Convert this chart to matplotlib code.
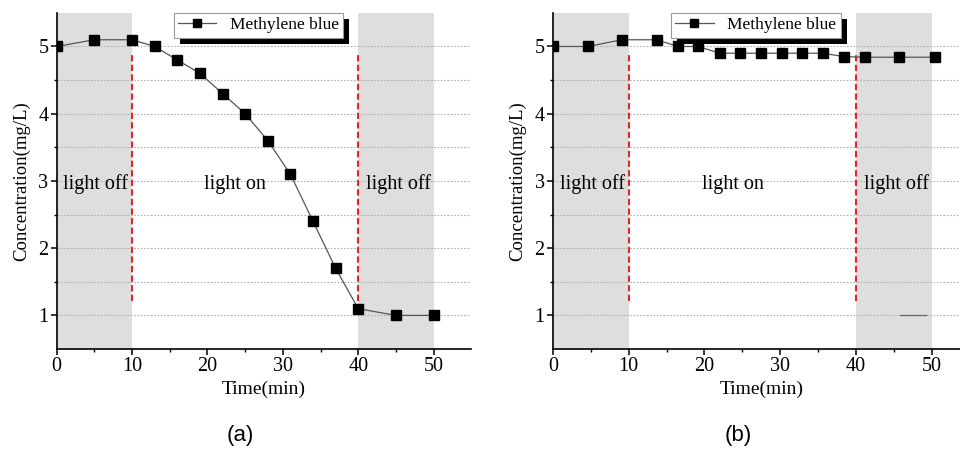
import matplotlib
matplotlib.use("Agg")
import matplotlib.pyplot as plt
from matplotlib.ticker import FixedLocator
from matplotlib.patches import Rectangle
from matplotlib.transforms import IdentityTransform

plt.rcParams['font.family'] = ['Liberation Serif', 'DejaVu Serif']

# data
a_time = [0, 5, 10, 13, 16, 19, 22, 25, 28, 31, 34, 37, 40, 45, 50]
a_conc = [5.0, 5.1, 5.1, 5.0, 4.8, 4.6, 4.3, 4.0, 3.6, 3.1, 2.4, 1.7, 1.1, 1.0, 1.0]

b_time = [0, 4.6, 9.1, 13.7, 16.5, 19.2, 22.0, 24.7, 27.4, 30.2, 32.9, 35.6, 38.4, 41.2, 45.7, 50.4]
b_conc = [5.0, 5.0, 5.1, 5.1, 5.0, 5.0, 4.9, 4.9, 4.9, 4.9, 4.9, 4.9, 4.85, 4.84, 4.84, 4.84]

# small stray segment in panel (b)
b_stub_x = [45.8, 49.3]
b_stub_y = [1.0, 1.0]

dark_spans = [(0, 10), (40, 50)]
switch_times = [10, 40]
switch_range = (1.22, 4.88)
region_labels = ['light off', 'light on', 'light off']
region_x = [5.2, 23.7, 45.3]
region_y = 2.95
series_name = 'Methylene blue'

fig = plt.figure(figsize=(9.6, 4.5), dpi=100)
ax_a = fig.add_axes([0.059, 0.2244, 0.432, 0.747])
ax_b = fig.add_axes([0.576, 0.2244, 0.434, 0.747])


def draw_panel(ax, t, c):
    for x0, x1 in dark_spans:
        ax.axvspan(x0, x1, color='#dedede', lw=0, zorder=0)
    for y in [1, 1.5, 2, 2.5, 3, 3.5, 4, 4.5, 5]:
        ax.axhline(y, color='#b0b0b0', lw=0.8, ls=(0, (1.5, 1.5)), zorder=0.5)
    for xs in switch_times:
        ax.plot([xs, xs], switch_range, color='#e3262b', lw=1.5,
                ls=(0, (3, 1.6)), zorder=2)
    ax.plot(t, c, color='#555555', lw=0.9, marker='s', ms=6.8,
            mfc='black', mec='black', zorder=3, label=series_name)
    for lab, x in zip(region_labels, region_x):
        ax.text(x, region_y, lab, ha='center', va='center', fontsize=14.5)

    ax.set_xlim(0, 55)
    ax.set_ylim(0.5, 5.5)
    ax.xaxis.set_major_locator(FixedLocator([0, 10, 20, 30, 40, 50]))
    ax.xaxis.set_minor_locator(FixedLocator([5, 15, 25, 35, 45]))
    ax.yaxis.set_major_locator(FixedLocator([1, 2, 3, 4, 5]))
    ax.yaxis.set_minor_locator(FixedLocator([1.5, 2.5, 3.5, 4.5]))
    ax.tick_params(which='major', direction='out', length=4, width=1.1,
                   labelsize=14.5, pad=2)
    ax.tick_params(which='minor', direction='out', length=2.5, width=1.0)
    for s in ['top', 'right']:
        ax.spines[s].set_visible(False)
    for s in ['left', 'bottom']:
        ax.spines[s].set_linewidth(1.2)
    ax.set_xlabel('Time(min)', fontsize=14, labelpad=3)
    ax.set_ylabel('Concentration(mg/L)', fontsize=13.5, labelpad=6)

    leg = ax.legend(loc='upper center', bbox_to_anchor=(0.487, 1.0),
                    borderaxespad=0, fancybox=False, fontsize=12.5,
                    handlelength=2.2, handletextpad=0.8, borderpad=0.25,
                    markerscale=0.8, framealpha=1, edgecolor='#999999')
    leg.get_frame().set_linewidth(0.8)
    leg.set_zorder(6)
    return leg


leg_a = draw_panel(ax_a, a_time, a_conc)
leg_b = draw_panel(ax_b, b_time, b_conc)
ax_b.plot(b_stub_x, b_stub_y, color='#666666', lw=0.9, zorder=2)

# black drop shadow behind the legends
fig.canvas.draw()
for ax, leg in [(ax_a, leg_a), (ax_b, leg_b)]:
    bb = leg.get_window_extent()
    shadow = Rectangle((bb.x0 + 6, bb.y0 - 6), bb.width, bb.height,
                       transform=IdentityTransform(), facecolor='black',
                       edgecolor='none', zorder=4.5, clip_on=False)
    ax.add_artist(shadow)

fig.text(0.25, 0.033, '(a)', ha='center', va='center', fontsize=16,
         family=['Liberation Sans', 'DejaVu Sans'])
fig.text(0.769, 0.033, '(b)', ha='center', va='center', fontsize=16,
         family=['Liberation Sans', 'DejaVu Sans'])

fig.savefig('out.png', dpi=100)
